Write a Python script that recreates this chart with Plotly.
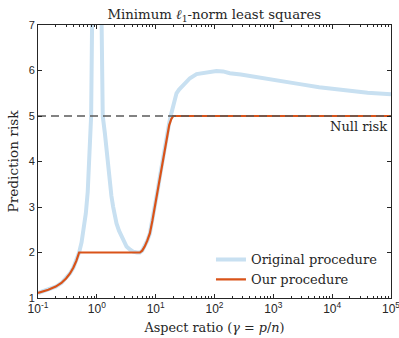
import plotly.graph_objects as go

# Original procedure (light blue)
gamma_orig = [0.1, 0.15, 0.2, 0.25, 0.3, 0.35, 0.4, 0.45, 0.5, 0.55, 0.6, 0.65, 0.7, 0.75,
              0.8, 0.83, 0.87, 0.9, 1.1, 1.13, 1.19, 1.26, 1.37, 1.46, 1.56, 1.66, 1.77, 1.89,
              2.02, 2.16, 2.38, 2.63, 2.9, 3.2, 3.7, 4.15, 4.8, 5.4, 5.9, 6.5, 7.2, 7.96, 8.8,
              9.7, 10.7, 11.8, 13.0, 14.3, 15.6, 17.0, 18.4, 19.9, 21.2, 22.6, 25.0,
              27.6, 31.4, 38.2, 49.6, 73, 108, 140, 182, 280, 400, 770, 1500, 2830, 6000,
              17700, 40000, 100000]
risk_orig = [1.11, 1.18, 1.25, 1.33, 1.43, 1.54, 1.67, 1.82, 2.0, 2.22, 2.5, 2.86, 3.33, 4.0,
             5.0, 7.0, 10.0, 14.0, 14.0, 10.0, 7.0, 5.0, 4.62, 4.25, 3.89, 3.52, 3.24, 3.01,
             2.8, 2.64, 2.48, 2.35, 2.23, 2.13, 2.06, 2.02, 2.0, 2.0, 2.04, 2.13, 2.26, 2.42, 2.7,
             3.01, 3.34, 3.67, 4.0, 4.33, 4.6, 4.85, 5.05, 5.24, 5.38, 5.5, 5.58,
             5.64, 5.72, 5.83, 5.92, 5.96, 5.99, 5.98, 5.94, 5.91, 5.88, 5.83, 5.76, 5.70, 5.63,
             5.55, 5.51, 5.48]

# Our procedure (orange)
gamma_ours = [0.1, 0.15, 0.2, 0.25, 0.3, 0.35, 0.4, 0.45, 0.5, 1.0, 3.0, 5.4, 5.9, 6.5, 7.2,
              7.96, 8.8, 9.7, 10.7, 11.8, 13.0, 14.3, 15.6, 17.0, 18.4, 19.9, 100, 1000,
              10000, 100000]
risk_ours = [1.11, 1.18, 1.25, 1.33, 1.43, 1.54, 1.67, 1.82, 2.0, 2.0, 2.0, 2.0, 2.04, 2.13,
             2.26, 2.42, 2.7, 3.01, 3.34, 3.67, 4.0, 4.33, 4.6, 4.80, 4.93, 5.0, 5.0, 5.0,
             5.0, 5.0]

# Null risk
gamma_null = [0.1, 100000]
risk_null = [5, 5]

x_tick_vals = [0.1, 1, 10, 100, 1000, 10000, 100000]
x_tick_text = ["10<sup>-1</sup>", "10<sup>0</sup>", "10<sup>1</sup>", "10<sup>2</sup>",
               "10<sup>3</sup>", "10<sup>4</sup>", "10<sup>5</sup>"]
y_tick_vals = [1, 2, 3, 4, 5, 6, 7]

minor_vals = [m * d for d in x_tick_vals[:-1] for m in range(2, 10)]

SERIF = "DejaVu Serif, serif"
SANS = "Liberation Sans, Arial, sans-serif"
AXC = "#262626"

fig = go.Figure()
fig.add_trace(go.Scatter(x=gamma_orig, y=risk_orig, mode="lines", name="Original procedure",
                         line=dict(color="#c8e0f1", width=4)))
fig.add_trace(go.Scatter(x=gamma_ours, y=risk_ours, mode="lines", name="Our procedure",
                         line=dict(color="#d95319", width=2.2)))
fig.add_trace(go.Scatter(x=gamma_null, y=risk_null, mode="lines", showlegend=False,
                         line=dict(color="#5a5a5a", width=1.5, dash="8px,5px")))

fig.add_annotation(x=1, xref="paper", y=5, yref="y", text="Null risk", showarrow=False,
                   xanchor="right", yanchor="top", xshift=-2, yshift=-1,
                   font=dict(family=SERIF, size=13, color=AXC))

fig.update_layout(
    width=399, height=338,
    margin=dict(l=38, r=8, t=25, b=40),
    paper_bgcolor="white", plot_bgcolor="white",
    title=dict(text="Minimum <i>ℓ</i><sub>1</sub>-norm least squares", x=0.537, xanchor="center",
               y=0.958, yanchor="middle", font=dict(family=SERIF, size=13.3, color=AXC)),
    legend=dict(x=0.49, y=0.013, xanchor="left", yanchor="bottom", bgcolor="rgba(0,0,0,0)",
                font=dict(family=SERIF, size=13, color=AXC), tracegroupgap=0,
                itemwidth=30),
    showlegend=True,
)
fig.update_xaxes(type="log", range=[-1, 5], tickmode="array", tickvals=x_tick_vals,
                 ticktext=x_tick_text, automargin=False, ticklabeloverflow="allow",
                 showgrid=False, zeroline=False, showline=True, linecolor=AXC, linewidth=1,
                 mirror="ticks", ticks="inside", ticklen=4, tickcolor=AXC,
                 minor=dict(tickmode="array", tickvals=minor_vals, ticks="inside", ticklen=2,
                            tickcolor=AXC, showgrid=False),
                 tickfont=dict(family=SANS, size=12, color=AXC),
                 title=dict(text="Aspect ratio (<i>γ</i> = <i>p</i>/<i>n</i>)", standoff=7,
                            font=dict(family=SERIF, size=12.8, color=AXC)))
fig.update_yaxes(range=[1, 7], tickvals=y_tick_vals, showgrid=False, zeroline=False,
                 automargin=False,
                 showline=True, linecolor=AXC, linewidth=1, mirror="ticks", ticks="inside",
                 ticklen=4, tickcolor=AXC, tickfont=dict(family=SANS, size=11, color=AXC),
                 title=dict(text="Prediction risk", standoff=6,
                            font=dict(family=SERIF, size=13.7, color=AXC)))

fig.write_html("out.html", config={"displayModeBar": False},
               post_script="document.body.style.margin='0';document.body.style.padding='0';")
